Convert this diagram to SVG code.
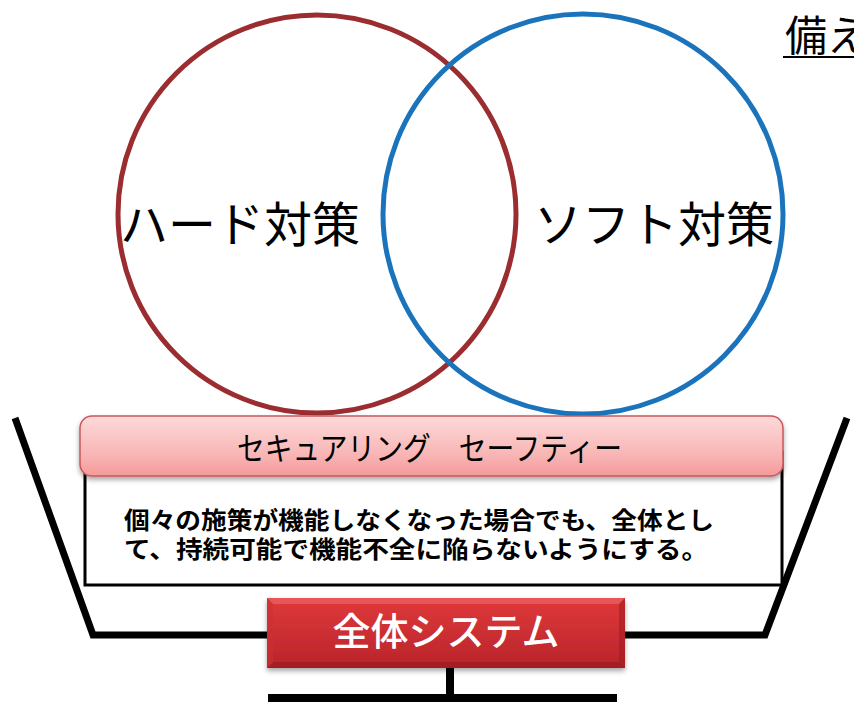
<svg xmlns="http://www.w3.org/2000/svg" width="854" height="707" viewBox="0 0 854 707">
<defs>
<linearGradient id="pink" x1="0" y1="0" x2="0" y2="1">
<stop offset="0" stop-color="#fdd9d9"/>
<stop offset="0.6" stop-color="#f9b8b8"/>
<stop offset="1" stop-color="#f49a9a"/>
</linearGradient>
<linearGradient id="red" x1="0" y1="0" x2="0" y2="1">
<stop offset="0" stop-color="#e0393b"/>
<stop offset="1" stop-color="#b8242a"/>
</linearGradient>
<filter id="sh" x="-5%" y="-20%" width="110%" height="150%">
<feDropShadow dx="0" dy="3" stdDeviation="2.5" flood-color="#000" flood-opacity="0.35"/>
</filter>
</defs>
<style>
.jp{font-family:"Noto Sans CJK JP","Noto Sans CJK SC",sans-serif;}
.ln{stroke:#000;fill:none;}
</style>
<rect width="854" height="707" fill="#fff"/>

<g id="title">
<text class="jp" x="785" y="51" font-size="42" fill="#000">備え</text>
<line x1="783" y1="57" x2="854" y2="57" stroke="#000" stroke-width="2"/>
</g>

<g id="hard">
<circle cx="317" cy="214" r="199" fill="none" stroke="#9b2d30" stroke-width="5"/>
<text class="jp" x="240" y="242" font-size="48" text-anchor="middle" fill="#000">ハード対策</text>
</g>
<g id="soft">
<circle cx="583" cy="214" r="200" fill="none" stroke="#1b74bb" stroke-width="5"/>
<text class="jp" x="654" y="242" font-size="48" text-anchor="middle" fill="#000">ソフト対策</text>
</g>

<g id="bowl">
<polyline class="ln" points="15,418 93,635 765,635 847,418" stroke-width="7" stroke-linejoin="miter"/>
</g>

<g id="desc">
<rect x="85" y="452" width="697" height="133" fill="#fff" stroke="#000" stroke-width="3"/>
<text class="jp" font-size="24" font-weight="bold" fill="#000">
<tspan x="124" y="529" textLength="590" lengthAdjust="spacingAndGlyphs">個々の施策が機能しなくなった場合でも、全体とし</tspan>
<tspan x="124" y="558" textLength="584" lengthAdjust="spacingAndGlyphs">て、持続可能で機能不全に陥らないようにする。</tspan>
</text>
</g>

<g id="banner">
<rect x="80" y="416" width="703" height="60" rx="12" fill="url(#pink)" stroke="#c9575a" stroke-width="1.5" filter="url(#sh)"/>
<text class="jp" x="237" y="460" font-size="32" fill="#000" textLength="385" lengthAdjust="spacingAndGlyphs">セキュアリング　セーフティー</text>
</g>

<g id="system">
<line x1="450" y1="665" x2="450" y2="698" stroke="#000" stroke-width="8"/>
<line x1="268" y1="698" x2="617" y2="698" stroke="#000" stroke-width="8"/>
<rect x="267" y="598" width="358" height="70" fill="url(#red)" filter="url(#sh)"/>
<polygon points="267,598 625,598 619,604 273,604" fill="#ee6a6a" opacity="0.6"/>
<polygon points="267,668 625,668 619,662 273,662" fill="#8f161b" opacity="0.5"/>
<polygon points="267,598 273,604 273,662 267,668" fill="#c93034" opacity="0.6"/>
<polygon points="625,598 619,604 619,662 625,668" fill="#a01d22" opacity="0.6"/>
<text class="jp" x="446" y="645" font-size="38" font-weight="500" text-anchor="middle" fill="#fff">全体システム</text>
</g>
</svg>
